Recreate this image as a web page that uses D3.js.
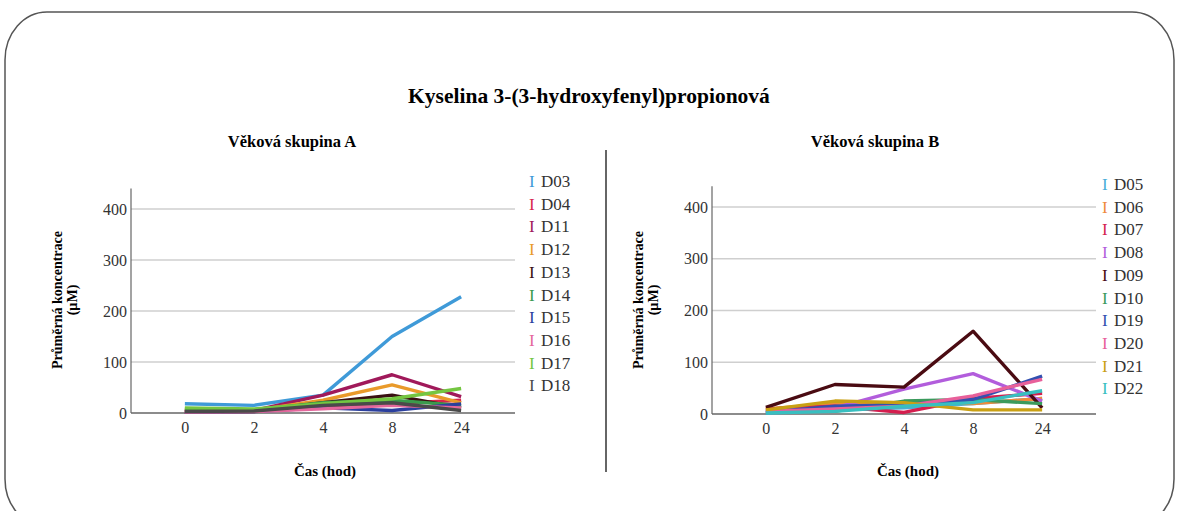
<!DOCTYPE html>
<html>
<head>
<meta charset="utf-8">
<script src="https://cdn.jsdelivr.net/npm/d3@7"></script>
</head>
<body style="margin:0;background:#fff">
<div id="chart"></div>
<script>
var times = ["0", "2", "4", "8", "24"];
var yTicks = [0, 100, 200, 300, 400];

// Věková skupina A
var namesA = ["D03", "D04", "D11", "D12", "D13", "D14", "D15", "D16", "D17", "D18"];
var coloursA = ["#3f9ad8", "#d7264d", "#a0195a", "#e99a2a", "#3a1012", "#3a9a4c", "#2b3f9e", "#e4679c", "#74c641", "#4a4a4a"];
var valuesA = [
    [18, 15, 35, 150, 228],
    [5, 5, 12, 18, 25],
    [3, 5, 35, 75, 32],
    [5, 5, 25, 55, 20],
    [2, 3, 20, 35, 10],
    [8, 6, 20, 25, 15],
    [2, 3, 10, 5, 18],
    [2, 3, 8, 15, 10],
    [10, 8, 18, 28, 48],
    [3, 4, 15, 20, 5]
];

// Věková skupina B
var namesB = ["D05", "D06", "D07", "D08", "D09", "D10", "D19", "D20", "D21", "D22"];
var coloursB = ["#4aaed8", "#ef8a3c", "#d41e4e", "#b25ddc", "#4a0b12", "#3b9a5c", "#3350b0", "#e8609a", "#c9a014", "#38bfc0"];
var valuesB = [
    [2, 8, 12, 20, 30],
    [10, 20, 22, 20, 30],
    [10, 15, 3, 30, 40],
    [5, 12, 48, 78, 25],
    [13, 57, 52, 160, 12],
    [5, 5, 25, 28, 20],
    [3, 15, 18, 28, 73],
    [5, 10, 15, 35, 67],
    [8, 25, 22, 8, 8],
    [2, 5, 15, 22, 45]
];

var W = 1179, H = 511;
var serif = "'Liberation Serif'";
var svg = d3.select("#chart").append("svg")
    .attr("width", W)
    .attr("height", H);

// frame
svg.append("rect")
    .attr("x", 5).attr("y", 12)
    .attr("width", 1169).attr("height", 515)
    .attr("rx", 42).attr("ry", 48)
    .attr("fill", "none")
    .attr("stroke", "#555")
    .attr("stroke-width", 1.5);

svg.append("text")
    .attr("x", 589).attr("y", 103)
    .attr("text-anchor", "middle")
    .attr("font-size", 21.5)
    .attr("font-weight", "bold")
    .style("font-family", serif)
    .text("Kyselina 3-(3-hydroxyfenyl)propionová");

svg.append("line")
    .attr("x1", 606).attr("x2", 606)
    .attr("y1", 150).attr("y2", 472)
    .attr("stroke", "#333")
    .attr("stroke-width", 1.5);

const panel = (opts) => {
    var g = svg.append("g");

    var x = d3.scalePoint()
        .domain(times)
        .range([opts.left, opts.right])
        .padding(0.78);

    var y = d3.scaleLinear()
        .domain([0, 400])
        .range([opts.zero, opts.top400]);

    // gridlines
    g.append("g")
        .selectAll("line")
        .data(yTicks)
        .enter()
        .append("line")
        .attr("x1", opts.left)
        .attr("x2", opts.right)
        .attr("y1", d => y(d))
        .attr("y2", d => y(d))
        .attr("stroke", d => d == 0 ? "#666" : "#cfcfcf")
        .attr("stroke-width", d => d == 0 ? 1.5 : 1.3);

    var yAxis = g.append("g")
        .attr("transform", "translate(" + opts.left + ",0)")
        .call(d3.axisLeft(y).tickValues(yTicks).tickSize(0).tickPadding(4));
    yAxis.select(".domain").remove();
    yAxis.selectAll("text")
        .attr("font-size", 16)
        .attr("fill", "#333")
        .style("font-family", serif);

    g.append("line")
        .attr("x1", opts.left).attr("x2", opts.left)
        .attr("y1", y(440)).attr("y2", y(0))
        .attr("stroke", "#666")
        .attr("stroke-width", 1.2);

    var xAxis = g.append("g")
        .attr("transform", "translate(0," + y(0) + ")")
        .call(d3.axisBottom(x).tickSize(0).tickPadding(9));
    xAxis.select(".domain").remove();
    xAxis.selectAll("text")
        .attr("font-size", 16)
        .attr("fill", "#333")
        .style("font-family", serif);

    var line = d3.line()
        .x((d, i) => x(times[i]))
        .y(d => y(d));

    g.append("g")
        .selectAll("path")
        .data(opts.values)
        .enter()
        .append("path")
        .attr("d", d => line(d))
        .attr("fill", "none")
        .attr("stroke", (d, i) => opts.colours[i])
        .attr("stroke-width", 3.4)
        .attr("stroke-linejoin", "round");

    // titles
    g.append("text")
        .attr("x", opts.titleX).attr("y", 147)
        .attr("text-anchor", "middle")
        .attr("font-size", 16.5)
        .attr("font-weight", "bold")
        .style("font-family", serif)
        .text(opts.title);

    g.append("text")
        .attr("x", opts.titleX + 33).attr("y", 476)
        .attr("text-anchor", "middle")
        .attr("font-size", 15)
        .attr("font-weight", "bold")
        .style("font-family", serif)
        .text("Čas (hod)");

    var yl = g.append("text")
        .attr("transform", "translate(" + (opts.left - 69) + ",300) rotate(-90)")
        .attr("text-anchor", "middle")
        .attr("font-size", 14)
        .attr("font-weight", "bold")
        .style("font-family", serif);
    yl.append("tspan").attr("x", 0).attr("dy", 0).text("Průměrná koncentrace");
    yl.append("tspan").attr("x", 0).attr("dy", 15).text("(µM)");

    // legend
    var leg = g.append("g")
        .selectAll("g")
        .data(opts.names)
        .enter()
        .append("g")
        .attr("transform", (d, i) => "translate(" + opts.legendX + "," + (opts.legendY + i * 22.7) + ")");
    leg.append("text")
        .attr("x", 0).attr("y", 0)
        .attr("font-size", 17)
        .attr("fill", (d, i) => opts.colours[i])
        .style("font-family", serif)
        .text("I");
    leg.append("text")
        .attr("x", 12).attr("y", 0)
        .attr("font-size", 17)
        .attr("fill", "#333")
        .style("font-family", serif)
        .text(d => d);
};

panel({
    left: 131, right: 515, zero: 413, top400: 209,
    values: valuesA, colours: coloursA, names: namesA,
    title: "Věková skupina A", titleX: 292,
    legendX: 529, legendY: 187
});

panel({
    left: 712, right: 1096, zero: 414, top400: 207,
    values: valuesB, colours: coloursB, names: namesB,
    title: "Věková skupina B", titleX: 875,
    legendX: 1102, legendY: 190
});
</script>
</body>
</html>
